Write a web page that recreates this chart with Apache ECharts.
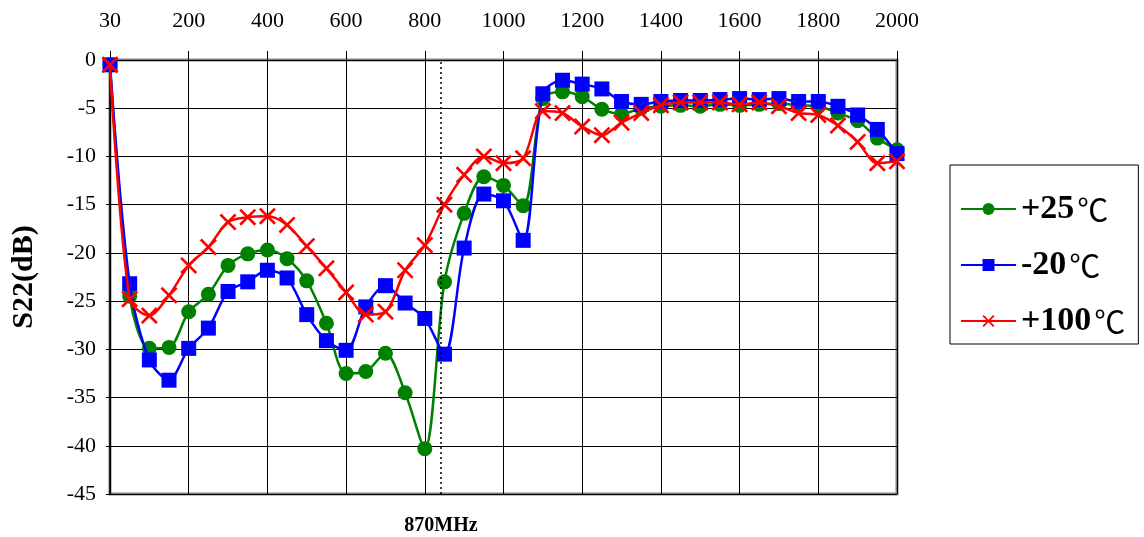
<!DOCTYPE html>
<html><head><meta charset="utf-8">
<script src="https://cdn.jsdelivr.net/npm/echarts@6/dist/echarts.min.js"></script>
<style>html,body{margin:0;padding:0;background:#fff}#c{width:1144px;height:537px}</style>
</head><body><div id="c"></div>
<script>
const freqs = ['30','50','100','150','200','250','300','350','400','450','500','550','600','650','700','750','800','850','900','950','1000','1050','1100','1150','1200','1250','1300','1350','1400','1450','1500','1550','1600','1650','1700','1750','1800','1850','1900','1950','2000'];
const s25 = [-0.5,-24.5,-29.9,-29.8,-26.1,-24.3,-21.3,-20.1,-19.7,-20.6,-22.9,-27.3,-32.5,-32.3,-30.4,-34.5,-40.3,-23.0,-15.9,-12.1,-13.0,-15.1,-4.0,-3.3,-3.8,-5.1,-5.6,-5.0,-4.8,-4.7,-4.8,-4.6,-4.7,-4.6,-4.5,-4.7,-4.8,-5.5,-6.3,-8.1,-9.3];
const sM20 = [-0.5,-23.2,-31.1,-33.2,-29.9,-27.8,-24.0,-23.0,-21.8,-22.6,-26.4,-29.1,-30.1,-25.6,-23.4,-25.2,-26.8,-30.5,-19.5,-13.9,-14.6,-18.7,-3.5,-2.1,-2.5,-3.0,-4.3,-4.6,-4.3,-4.2,-4.2,-4.1,-4.0,-4.1,-4.0,-4.3,-4.3,-4.8,-5.7,-7.2,-9.7];
const s100 = [-0.5,-24.8,-26.5,-24.4,-21.3,-19.4,-16.8,-16.3,-16.2,-17.1,-19.3,-21.6,-24.1,-26.4,-26.1,-21.8,-19.2,-15.0,-11.9,-10.0,-10.7,-10.2,-5.3,-5.5,-6.9,-7.8,-6.5,-5.5,-4.7,-4.4,-4.4,-4.4,-4.6,-4.4,-4.8,-5.5,-5.7,-6.8,-8.5,-10.7,-10.5];
const seriesNames = ['+25℃','-20℃','+100℃'];
const markerPos = 16.82; // category-index position of the 870MHz marker line
const markerLabel = '870MHz';

const FONT = 'Liberation Serif';
const xPath = 'path://M0,11 L11,0 L50,39 L89,0 L100,11 L61,50 L100,89 L89,100 L50,61 L11,100 L0,89 L39,50 Z';

const chart = echarts.init(document.getElementById('c'));
chart.setOption({
  animation: false,
  backgroundColor: '#fff',
  grid: {left: 110, right: 247, top: 60, bottom: 43, show: true, borderColor: '#808080', borderWidth: 3, backgroundColor: 'transparent'},
  legend: {
    orient: 'vertical', left: 950, top: 165,
    padding: [27, 13, 6, 10], itemGap: 22, itemWidth: 55, itemHeight: 15,
    borderColor: '#000', borderWidth: 1,
    formatter: function (n) { return '{b|' + n.replace('℃', '') + '}{c|℃}'; },
    textStyle: {
      rich: {
        b: {fontFamily: FONT, fontSize: 34, fontWeight: 'bold', color: '#000', lineHeight: 34, padding: [0, 3, 0, 0]},
        c: {fontFamily: 'Noto Sans CJK SC', fontSize: 31, fontWeight: 'normal', color: '#000', lineHeight: 34}
      }
    },
    data: seriesNames
  },
  xAxis: [{
    type: 'category', position: 'top', data: freqs, boundaryGap: false,
    axisLine: {show: false},
    axisTick: {show: true, interval: 3, length: 9, lineStyle: {color: '#000', width: 1}},
    axisLabel: {interval: 3, margin: 28, fontFamily: FONT, fontSize: 22, color: '#000'},
    splitLine: {show: true, interval: 3, lineStyle: {color: '#000', width: 1}}
  }, {
    type: 'value', position: 'bottom', min: 0, max: freqs.length - 1, show: false
  }],
  yAxis: {
    type: 'value', min: -45, max: 0, interval: 5,
    name: 'S22(dB)', nameLocation: 'middle', nameGap: 71,
    nameTextStyle: {fontFamily: FONT, fontSize: 30, fontWeight: 'bold', color: '#000'},
    axisLine: {show: true, lineStyle: {color: '#000', width: 1.5}},
    axisTick: {show: true, length: 4, lineStyle: {color: '#000'}},
    axisLabel: {margin: 14, fontFamily: FONT, fontSize: 22, color: '#000'},
    splitLine: {show: true, lineStyle: {color: '#000', width: 1}}
  },
  series: [
    {name: 'marker', type: 'line', xAxisIndex: 1, data: [], silent: true,
     markLine: {silent: true, symbol: 'none', animation: false,
       lineStyle: {color: '#000', type: [2, 3], width: 1.5},
       label: {show: true, position: 'start', distance: 22, formatter: markerLabel, fontFamily: FONT, fontSize: 20, fontWeight: 'bold', color: '#000'},
       data: [{xAxis: markerPos}]}},
    {name: seriesNames[0], type: 'line', data: s25, smooth: 0.3, symbol: 'circle', symbolSize: 15, showAllSymbol: true,
     itemStyle: {color: '#008000'}, lineStyle: {color: '#008000', width: 2.5}, z: 2},
    {name: seriesNames[1], type: 'line', data: sM20, smooth: 0.3, symbol: 'rect', symbolSize: 15, showAllSymbol: true,
     itemStyle: {color: '#0000FF'}, lineStyle: {color: '#0000FF', width: 2.5}, z: 3},
    {name: seriesNames[2], type: 'line', data: s100, smooth: 0.3, symbol: xPath, symbolSize: 17, showAllSymbol: true,
     itemStyle: {color: '#FF0000'}, lineStyle: {color: '#FF0000', width: 2.5}, z: 4}
  ]
});
</script></body></html>
